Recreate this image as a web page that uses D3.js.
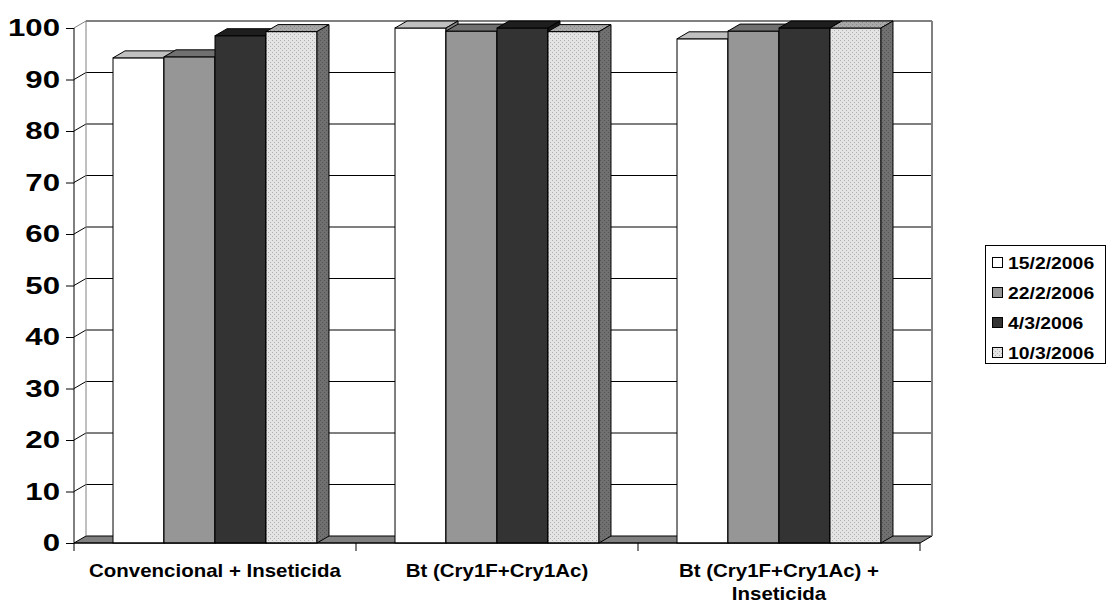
<!DOCTYPE html>
<html>
<head>
<meta charset="utf-8">
<script src="https://cdn.jsdelivr.net/npm/d3@7"></script>
<style>
  html, body { margin: 0; padding: 0; background: #fff; }
  svg { display: block; }
  text { font-family: Arial, "Liberation Sans", sans-serif; font-weight: bold; fill: #000; }
</style>
</head>
<body>
<svg id="chart" width="1107" height="605"></svg>
<script>
// ---- data ----
const categories = ["Convencional + Inseticida", "Bt (Cry1F+Cry1Ac)", "Bt (Cry1F+Cry1Ac) + Inseticida"];
const categoryLines = [["Convencional + Inseticida"], ["Bt (Cry1F+Cry1Ac)"], ["Bt (Cry1F+Cry1Ac) +", "Inseticida"]];
const seriesNames = ["15/2/2006", "22/2/2006", "4/3/2006", "10/3/2006"];
const s1 = [94.2, 100, 97.9];
const s2 = [94.4, 99.4, 99.4];
const s3 = [98.5, 100, 100];
const s4 = [99.3, 99.3, 100];
const seriesValues = [s1, s2, s3, s4];
const yTicks = [0, 10, 20, 30, 40, 50, 60, 70, 80, 90, 100];

// ---- layout ----
const svg = d3.select("#chart");
const pLeft = 74, pRight = 920, pBottom = 543, pTop = 28;
const dx = 12, dy = -7;

const y = d3.scaleLinear().domain([0, 100]).range([pBottom, pTop]);
const x = d3.scaleBand().domain(categories).range([pLeft, pRight]).paddingInner(0).paddingOuter(0);
const xs = d3.scaleBand().domain(seriesNames).range([0, x.bandwidth()]).paddingInner(0).paddingOuter(0.765);

// patterns
const defs = svg.append("defs");
function dotPattern(id, bg, dot) {
  const p = defs.append("pattern").attr("id", id).attr("width", 4).attr("height", 4)
    .attr("patternUnits", "userSpaceOnUse");
  p.append("rect").attr("width", 4).attr("height", 4).attr("fill", bg);
  p.append("rect").attr("x", 0).attr("y", 0).attr("width", 1).attr("height", 1).attr("fill", dot);
  p.append("rect").attr("x", 2).attr("y", 2).attr("width", 1).attr("height", 1).attr("fill", dot);
}
dotPattern("dotFront", "#e4e4e4", "#b0b0b0");
dotPattern("dotTop", "#a8a8a8", "#888888");
dotPattern("dotSide", "#707070", "#555555");

const faces = [
  { front: "#ffffff", top: "#c0c0c0", side: "#808080" },
  { front: "#969696", top: "#707070", side: "#5a5a5a" },
  { front: "#333333", top: "#1e1e1e", side: "#151515" },
  { front: "url(#dotFront)", top: "url(#dotTop)", side: "url(#dotSide)" }
];

// ---- walls ----
const g = svg.append("g");
g.append("polygon")
  .attr("points", [[pLeft, pBottom], [pRight, pBottom], [pRight + dx, pBottom + dy], [pLeft + dx, pBottom + dy]].map(p => p.join(",")).join(" "))
  .attr("fill", "#808080").attr("stroke", "#000").attr("stroke-width", 1);

yTicks.filter(t => t > 0).forEach(t => {
  const yy = y(t);
  g.append("line").attr("x1", pLeft + dx).attr("x2", pRight + dx)
    .attr("y1", yy + dy).attr("y2", yy + dy)
    .attr("stroke", t === 100 ? "#808080" : "#000").attr("stroke-width", t === 100 ? 2 : 1);
  g.append("line").attr("x1", pLeft).attr("x2", pLeft + dx)
    .attr("y1", yy).attr("y2", yy + dy)
    .attr("stroke", t === 100 ? "#808080" : "#000").attr("stroke-width", 1);
});
g.append("line").attr("x1", pLeft + dx).attr("x2", pLeft + dx).attr("y1", y(100) + dy).attr("y2", pBottom + dy)
  .attr("stroke", "#808080").attr("stroke-width", 1);
g.append("line").attr("x1", pRight + dx).attr("x2", pRight + dx).attr("y1", y(100) + dy).attr("y2", pBottom + dy)
  .attr("stroke", "#808080").attr("stroke-width", 2);

// ---- bars ----
categories.forEach((c, ci) => {
  seriesNames.forEach((s, si) => {
    const v = seriesValues[si][ci];
    const x0 = x(c) + xs(s), x1 = x0 + xs.bandwidth();
    const y0 = y(v), yb = y(0);
    const f = faces[si];
    g.append("rect").attr("x", x0).attr("y", y0).attr("width", x1 - x0).attr("height", yb - y0)
      .attr("fill", f.front).attr("stroke", "#000").attr("stroke-width", 1);
    g.append("polygon")
      .attr("points", [[x0, y0], [x1, y0], [x1 + dx, y0 + dy], [x0 + dx, y0 + dy]].map(p => p.join(",")).join(" "))
      .attr("fill", f.top).attr("stroke", "#000").attr("stroke-width", 1);
    g.append("polygon")
      .attr("points", [[x1, y0], [x1 + dx, y0 + dy], [x1 + dx, yb + dy], [x1, yb]].map(p => p.join(",")).join(" "))
      .attr("fill", f.side).attr("stroke", "#000").attr("stroke-width", 1);
  });
});

// ---- axes ----
const yAxis = d3.axisLeft(y).tickValues(yTicks).tickSize(8).tickPadding(6);
const ya = svg.append("g").attr("transform", `translate(${pLeft},0)`).call(yAxis);
ya.select(".domain").attr("stroke", "#000").attr("d", `M0,${pBottom}V${pTop}`);
ya.selectAll(".tick line").attr("stroke", "#000");
ya.selectAll(".tick text")
  .attr("font-size", 24).attr("font-weight", "bold")
  .attr("font-family", "Arial, 'Liberation Sans', sans-serif")
  .attr("fill", "#000")
  .each(function() {
    const t = d3.select(this);
    const xx = +t.attr("x");
    t.attr("x", null).attr("transform", `translate(${xx},0) scale(1.3,1)`);
  });

const xa = svg.append("g").attr("transform", `translate(0,${pBottom})`);
xa.append("line").attr("x1", pLeft).attr("x2", pRight).attr("y1", 0).attr("y2", 0).attr("stroke", "#000");
const xTickPos = categories.map(c => x(c)).concat([x(categories[categories.length - 1]) + x.bandwidth()]);
xa.selectAll("line.tk").data(xTickPos).enter().append("line").attr("class", "tk")
  .attr("x1", d => d).attr("x2", d => d).attr("y1", 0).attr("y2", 8).attr("stroke", "#000");
categories.forEach((c, ci) => {
  const cx = x(c) + x.bandwidth() / 2;
  const t = xa.append("text").attr("text-anchor", "middle")
    .attr("transform", `translate(${cx},0) scale(1.17,1)`)
    .attr("font-size", 17.5);
  categoryLines[ci].forEach((ln, li) => {
    t.append("tspan").attr("x", 0).attr("y", 34 + li * 23).text(ln);
  });
});

// ---- legend ----
const lg = svg.append("g").attr("transform", "translate(985,245)");
lg.append("rect").attr("x", 0.5).attr("y", 0.5).attr("width", 120).attr("height", 118)
  .attr("fill", "#fff").attr("stroke", "#000");
seriesNames.forEach((s, si) => {
  const yy = 18 + si * 30;
  lg.append("rect").attr("x", 7.5).attr("y", yy - 5.5).attr("width", 10).attr("height", 10)
    .attr("fill", faces[si].front).attr("stroke", "#000");
  lg.append("text").attr("transform", `translate(23,${yy}) scale(1.14,1)`)
    .attr("dy", "0.36em").attr("font-size", 17).text(s);
});
</script>
</body>
</html>
